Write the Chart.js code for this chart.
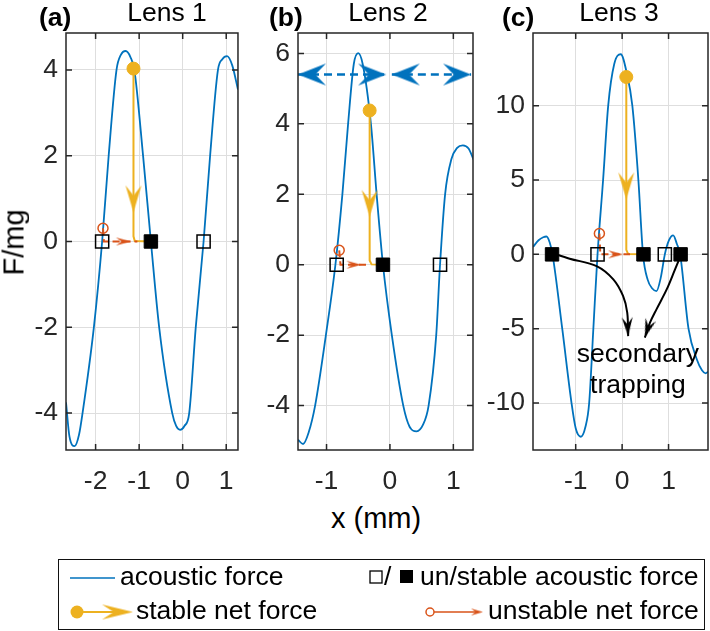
<!DOCTYPE html>
<html>
<head>
<meta charset="utf-8">
<script src="https://cdn.jsdelivr.net/npm/chart.js@4.4.0/dist/chart.umd.min.js"></script>
<style>
  body { margin: 0; background: #fff; }
  #fig { position: relative; width: 710px; height: 631px; overflow: hidden; background: #fff;
         font-family: "Liberation Sans", Arial, Helvetica, sans-serif; color: #000; }
  #fig canvas { position: absolute; }
  .t { position: absolute; font-size: 26.5px; line-height: 26px; white-space: nowrap; }
  .ttl { width: 200px; text-align: center; }
  .lab { font-size: 29px; line-height: 29px; }
  #legendBox { position: absolute; left: 58px; top: 559px; width: 645px; height: 69px; border: 1.5px solid #111; }
</style>
</head>
<body>
<div id="fig">
  <canvas id="lens1" width="250" height="500" style="left:0;top:0"></canvas>
  <canvas id="lens2" width="230" height="500" style="left:250px;top:0"></canvas>
  <canvas id="lens3" width="230" height="500" style="left:480px;top:0"></canvas>

  <div class="t" style="left:39px;top:4px;font-weight:bold">(a)</div>
  <div class="t" style="left:269px;top:4px;font-weight:bold">(b)</div>
  <div class="t" style="left:502px;top:4px;font-weight:bold">(c)</div>
  <div class="t ttl" style="left:67px;top:-1px">Lens 1</div>
  <div class="t ttl" style="left:288px;top:-1px">Lens 2</div>
  <div class="t ttl" style="left:519px;top:-1px">Lens 3</div>

  <div class="t lab" style="left:331px;top:504px">x (mm)</div>
  <div class="t lab" style="left:-18px;top:229px;width:64px;text-align:center;transform:rotate(-90deg)">F/mg</div>

  <div id="legendBox"></div>
  <canvas id="legendMarks" width="710" height="86" style="left:0;top:545px"></canvas>
  <div class="t" style="left:120px;top:563px">acoustic force</div>
  <div class="t" style="left:384px;top:563px">/</div>
  <div class="t" style="left:420px;top:563px">un/stable acoustic force</div>
  <div class="t" style="left:136px;top:597px">stable net force</div>
  <div class="t" style="left:488px;top:597px">unstable net force</div>
</div>

<script>
// ---- data ----
// Lens 1
const lens1X = [-2.68, -2.6, -2.48, -2.38, -2.30, -2.04, -1.85, -1.70, -1.52, -1.42, -1.31, -1.20, -1.11, -0.91, -0.73,
                -0.54, -0.24, -0.15, -0.06, 0.04, 0.15, 0.30, 0.48, 0.63, 0.81, 0.91, 1.02, 1.14, 1.27];
const lens1F = [-3.75, -4.55, -4.77, -4.5, -4.0, -2.0, 0, 2.0, 4.0, 4.35, 4.44, 4.3, 4.0, 2.0, 0,
                -2.0, -4.0, -4.3, -4.39, -4.3, -4.0, -2.0, 0, 2.0, 4.0, 4.25, 4.32, 4.1, 3.54];
const lens1Unstable = [-1.85, 0.48];
const lens1Stable = [-0.73];
const lens1NetX = [-1.13, -1.13, -1.10, -0.73];
const lens1NetF = [4.03, 0.12, 0.01, 0];
const lens1UnX = [-1.83, -1.81, -1.04];
const lens1UnF = [0.31, 0, 0];
const lens1XTicks = [-2, -1, 0, 1];
const lens1YTicks = [-4, -2, 0, 2, 4];

// Lens 2
const lens2X = [-1.45, -1.37, -1.28, -1.18, -1.01, -0.86, -0.75, -0.66, -0.57, -0.50, -0.43, -0.30, -0.21, -0.11,
                0.03, 0.21, 0.31, 0.42, 0.52, 0.61, 0.73, 0.79, 0.87, 0.97, 1.06, 1.15, 1.24, 1.32];
const lens2F = [-4.97, -5.09, -4.75, -4.0, -2.0, 0, 2.0, 4.0, 5.7, 6.01, 5.7, 4.0, 2.0, 0,
                -2.0, -4.0, -4.6, -4.73, -4.55, -4.0, -2.0, 0, 2.0, 3.0, 3.32, 3.39, 3.3, 2.98];
const lens2Unstable = [-0.84, 0.79];
const lens2Stable = [-0.11];
const lens2NetX = [-0.32, -0.32, -0.29, -0.11];
const lens2NetF = [4.38, 0.12, 0.01, 0];
const lens2UnX = [-0.80, -0.78, -0.35];
const lens2UnF = [0.41, 0, 0];
const lens2RangeX = [[-1.45, -0.06], [0.03, 1.28]];
const lens2RangeF = 5.4;
const lens2XTicks = [-1, 0, 1];
const lens2YTicks = [-4, -2, 0, 2, 4, 6];

// Lens 3
const lens3X = [-1.92, -1.80, -1.70, -1.63, -1.56, -1.50, -1.29, -1.09, -1.0, -0.89, -0.79, -0.71, -0.62, -0.53,
                -0.41, -0.30, -0.17, -0.03, 0.10, 0.22, 0.35, 0.45, 0.55, 0.65, 0.74, 0.83, 0.92, 1.01, 1.10,
                1.18, 1.25, 1.43, 1.61, 1.72, 1.80, 1.85];
const lens3F = [0.5, 0.95, 1.15, 1.2, 0.8, 0, -5.0, -10.0, -11.7, -12.27, -11.6, -10.0, -5.0, 0,
                5.0, 10.0, 12.8, 13.46, 12.2, 10.0, 5.0, 0, -1.7, -2.3, -2.47, -1.6, 0, 0.95, 1.28,
                0.7, 0, -5.0, -7.07, -7.8, -8.0, -7.9];
const lens3Unstable = [-0.53, 0.92];
const lens3Stable = [-1.51, 0.46, 1.26];
const lens3NetX = [0.09, 0.09, 0.13, 0.46];
const lens3NetF = [11.93, 0.3, 0.02, 0];
const lens3UnX = [-0.49, -0.47, 0.17];
const lens3UnF = [1.4, 0, 0];
const lens3TrapAX = [-1.53, -1.13, -0.55, -0.19, 0.02, 0.11, 0.13];
const lens3TrapAF = [0.11, -0.29, -0.79, -1.68, -2.8, -3.92, -5.5];
const lens3TrapBX = [1.26, 1.14, 0.96, 0.74, 0.60, 0.49];
const lens3TrapBF = [-0.11, -1.01, -2.36, -3.70, -4.6, -5.6];
const lens3XTicks = [-1, 0, 1];
const lens3YTicks = [-10, -5, 0, 5, 10];

const BLUE = '#0072BD', ORANGE = '#D95319', YELLOW = '#EDB120';
const FONT = '"Liberation Sans", Arial, Helvetica, sans-serif';

// arrowhead drawn pointing right with its tip at the canvas centre
function arrowHead(len, wid, color) {
  const c = document.createElement('canvas');
  c.width = len * 2 + 2;
  c.height = Math.ceil(wid) + 2;
  const g = c.getContext('2d');
  const cx = c.width / 2, cy = c.height / 2;
  g.fillStyle = color;
  g.beginPath();
  g.moveTo(cx, cy);
  g.lineTo(cx - len, cy - wid / 2);
  g.lineTo(cx - len * 0.62, cy);
  g.lineTo(cx - len, cy + wid / 2);
  g.closePath();
  g.fill();
  return c;
}

const pts = (xs, ys) => xs.map((x, i) => ({ x: x, y: ys[i] }));
const onZero = xs => xs.map(x => ({ x: x, y: 0 }));

function headSet(points, img, rot) {
  return { data: points, pointStyle: img, rotation: rot, pointRadius: 3, showLine: false };
}

const boxPlugin = {
  id: 'box',
  afterDraw(chart) {
    const { ctx, chartArea: a, scales: { x, y } } = chart;
    ctx.save();
    ctx.strokeStyle = '#262626';
    ctx.lineWidth = 1.5;
    ctx.strokeRect(a.left, a.top, a.right - a.left, a.bottom - a.top);
    ctx.beginPath();
    x.ticks.forEach(t => {
      const p = x.getPixelForValue(t.value);
      ctx.moveTo(p, a.bottom); ctx.lineTo(p, a.bottom - 6);
      ctx.moveTo(p, a.top); ctx.lineTo(p, a.top + 6);
    });
    y.ticks.forEach(t => {
      const p = y.getPixelForValue(t.value);
      ctx.moveTo(a.left, p); ctx.lineTo(a.left + 6, p);
      ctx.moveTo(a.right, p); ctx.lineTo(a.right - 6, p);
    });
    ctx.stroke();
    ctx.restore();
  }
};

function panel(id, cfg) {
  new Chart(document.getElementById(id), {
    type: 'scatter',
    data: { datasets: cfg.layers.slice().reverse() },
    options: {
      responsive: false,
      animation: false,
      events: [],
      layout: { autoPadding: false, padding: { top: 33, right: cfg.padRight, left: 0, bottom: 0 } },
      plugins: { legend: { display: false }, tooltip: { enabled: false } },
      scales: {
        x: {
          type: 'linear', min: cfg.xMin, max: cfg.xMax,
          afterBuildTicks: s => { s.ticks = cfg.xTicks.map(v => ({ value: v })); },
          afterFit: s => { s.height = 50; },
          grid: { color: '#dedede', lineWidth: 1, drawTicks: false },
          border: { display: false },
          ticks: { font: { size: 26.5, family: FONT }, color: '#262626', padding: 16, maxRotation: 0, autoSkip: false }
        },
        y: {
          type: 'linear', min: cfg.yMin, max: cfg.yMax,
          afterBuildTicks: s => { s.ticks = cfg.yTicks.map(v => ({ value: v })); },
          afterFit: s => { s.width = cfg.yWidth; },
          grid: { color: '#dedede', lineWidth: 1, drawTicks: false },
          border: { display: false },
          ticks: { font: { size: 26.5, family: FONT }, color: '#262626', padding: 8, autoSkip: false }
        }
      }
    },
    plugins: [boxPlugin].concat(cfg.extra || [])
  });
}

const yHead = arrowHead(27, 16, YELLOW);
const oHead = arrowHead(15, 8, ORANGE);
const bHead = arrowHead(28, 22, BLUE);
const kHead = arrowHead(19, 11, '#000');

function commonLayers(xs, fs, netX, netF, unX, unF, unstable, stable, yTip, oTip) {
  return [
    { data: pts(xs, fs), showLine: true, borderColor: BLUE, borderWidth: 1.8, pointRadius: 0, cubicInterpolationMode: 'monotone' },
    { data: pts(netX, netF), showLine: true, borderColor: YELLOW, borderWidth: 2, pointRadius: 0 },
    { data: pts(unX, unF), showLine: true, borderColor: ORANGE, borderWidth: 2, borderDash: [7, 4], pointRadius: 0 },
    headSet([{ x: netX[0], y: yTip }], yHead, 90),
    headSet([{ x: oTip, y: 0 }], oHead, 0),
    { data: onZero(unstable), showLine: false, pointStyle: 'rect', pointRadius: 9.3, borderColor: '#000', borderWidth: 1.5, backgroundColor: 'rgba(0,0,0,0)' },
    { data: onZero(stable), showLine: false, pointStyle: 'rect', pointRadius: 9.5, borderColor: '#000', borderWidth: 1, backgroundColor: '#000' },
    { data: [{ x: unX[0], y: unF[0] }], showLine: false, pointStyle: 'circle', pointRadius: 5, borderColor: ORANGE, borderWidth: 1.5, backgroundColor: 'rgba(0,0,0,0)' },
    { data: [{ x: netX[0], y: netF[0] }], showLine: false, pointStyle: 'circle', pointRadius: 6.5, borderColor: YELLOW, borderWidth: 1, backgroundColor: YELLOW }
  ];
}

// (a)
panel('lens1', {
  xMin: -2.68, xMax: 1.27, yMin: -4.86, yMax: 4.86, xTicks: lens1XTicks, yTicks: lens1YTicks,
  yWidth: 66, padRight: 6,
  layers: commonLayers(lens1X, lens1F, lens1NetX, lens1NetF, lens1UnX, lens1UnF, lens1Unstable, lens1Stable, 0.68, -1.19)
});

// (b)
const lens2Layers = commonLayers(lens2X, lens2F, lens2NetX, lens2NetF, lens2UnX, lens2UnF, lens2Unstable, lens2Stable, 1.36, -0.45);
lens2RangeX.forEach(r => {
  lens2Layers.push({ data: onZero(r).map(p => ({ x: p.x, y: lens2RangeF })), showLine: true, borderColor: BLUE, borderWidth: 2.5, borderDash: [8, 5], pointRadius: 0 });
  lens2Layers.push(headSet([{ x: r[0], y: lens2RangeF }], bHead, 180));
  lens2Layers.push(headSet([{ x: r[1], y: lens2RangeF }], bHead, 0));
});
panel('lens2', {
  xMin: -1.45, xMax: 1.31, yMin: -5.26, yMax: 6.58, xTicks: lens2XTicks, yTicks: lens2YTicks,
  yWidth: 48, padRight: 7,
  layers: lens2Layers
});

// (c)
const lens3Layers = commonLayers(lens3X, lens3F, lens3NetX, lens3NetF, lens3UnX, lens3UnF, lens3Unstable, lens3Stable, 3.7, 0.02);
lens3Layers.push({ data: pts(lens3TrapAX, lens3TrapAF), showLine: true, borderColor: '#000', borderWidth: 2, tension: 0.35, pointRadius: 0 });
lens3Layers.push({ data: pts(lens3TrapBX, lens3TrapBF), showLine: true, borderColor: '#000', borderWidth: 2, tension: 0.35, pointRadius: 0 });
lens3Layers.push(headSet([{ x: lens3TrapAX[6], y: lens3TrapAF[6] }], kHead, 87));
lens3Layers.push(headSet([{ x: lens3TrapBX[5], y: lens3TrapBF[5] }], kHead, 108));

const trapText = {
  id: 'trapText',
  afterDatasetsDraw(chart) {
    const { ctx, scales: { x, y } } = chart;
    ctx.save();
    ctx.font = '26.5px ' + FONT;
    ctx.fillStyle = '#000';
    ctx.textAlign = 'center';
    ctx.textBaseline = 'alphabetic';
    ctx.fillText('secondary', x.getPixelForValue(0.34), y.getPixelForValue(-7.25));
    ctx.fillText('trapping', x.getPixelForValue(0.34), y.getPixelForValue(-9.35));
    ctx.restore();
  }
};

panel('lens3', {
  xMin: -1.92, xMax: 1.85, yMin: -13.16, yMax: 14.89, xTicks: lens3XTicks, yTicks: lens3YTicks,
  yWidth: 53, padRight: 2,
  layers: lens3Layers, extra: [trapText]
});

// legend symbols
(function () {
  const g = document.getElementById('legendMarks').getContext('2d');
  const top = 545;
  g.lineWidth = 1.5;
  g.strokeStyle = BLUE;
  g.beginPath(); g.moveTo(70, 578 - top); g.lineTo(115, 578 - top); g.stroke();
  g.strokeStyle = '#000';
  g.lineWidth = 1.3;
  g.strokeRect(370, 571 - top, 12, 12);
  g.fillStyle = '#000';
  g.fillRect(400, 570 - top, 13, 13);
  // stable net force
  g.strokeStyle = YELLOW; g.lineWidth = 2;
  g.beginPath(); g.moveTo(77, 612 - top); g.lineTo(115, 612 - top); g.stroke();
  g.fillStyle = YELLOW;
  g.beginPath(); g.arc(77, 612 - top, 6.5, 0, Math.PI * 2); g.fill();
  const lh = arrowHead(31, 15, YELLOW);
  g.drawImage(lh, 133 - lh.width / 2, 612 - top - lh.height / 2);
  // unstable net force
  g.strokeStyle = ORANGE; g.lineWidth = 1.5;
  g.beginPath(); g.moveTo(434, 612 - top); g.lineTo(478, 612 - top); g.stroke();
  g.beginPath(); g.arc(430, 612 - top, 4, 0, Math.PI * 2); g.stroke();
  const oh = arrowHead(12, 7, ORANGE);
  g.drawImage(oh, 483 - oh.width / 2, 612 - top - oh.height / 2);
})();
</script>
</body>
</html>
